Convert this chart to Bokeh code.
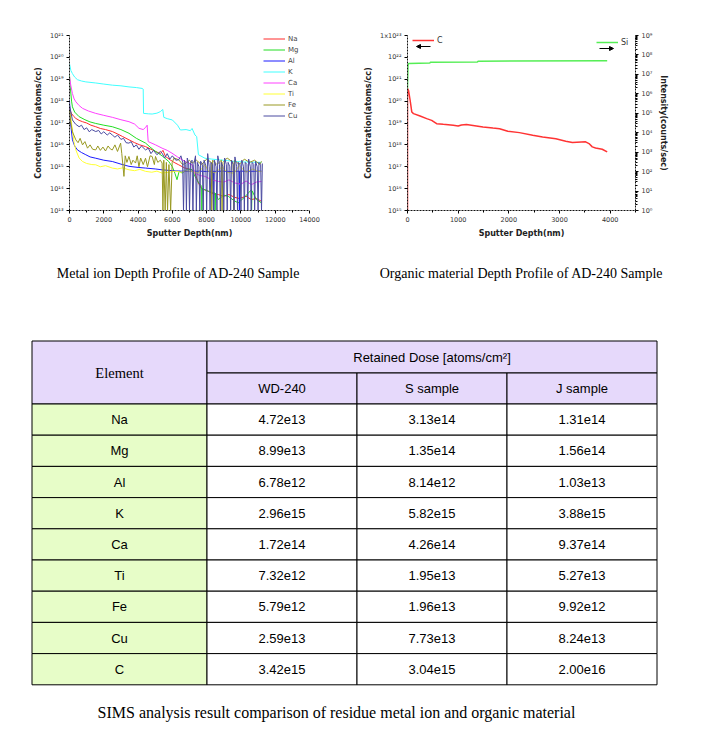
from bokeh.plotting import figure
from bokeh.models import (Range1d, LogScale, LogAxis, FixedTicker, CustomJSTickFormatter,
                          Legend, LegendItem, Arrow, NormalHead)
from bokeh.layouts import column, row
from bokeh.embed import file_html
from bokeh.resources import INLINE
from bokeh.core.properties import value

# ---------------- data: metal ion depth profile (depth nm, log10 atoms/cc) ----------------
na_pts = [(0,17.67),(100,17.45),(250,17.3),(370,17.21),(560,17.12),(760,17.06),(1000,17.0),(1250,16.9),
          (1530,16.83),(1800,16.75),(2100,16.7),(2500,16.61),(2800,16.5),(3100,16.38),(3470,16.23),
          (3800,16.1),(4100,16.0),(4440,15.92),(4700,15.82),(5020,15.70),(5300,15.6),(5450,15.75),
          (5600,15.47),(5900,15.3),(6100,15.2),(6370,15.09),(6700,14.95),(7150,14.86),(7320,14.71),
          (7520,14.26),(7700,14.0),(8100,13.88),(8400,13.75),(8680,13.73),(9000,13.65),(9300,13.73),
          (9640,13.6),(9900,13.55),(10300,13.65),(10610,13.50),(10900,13.55),(11200,13.42)]
mg_pts = [(0,19.18),(50,18.6),(120,18.0),(170,17.74),(300,17.5),(560,17.29),(900,17.15),(1200,17.05),
          (1530,16.98),(2000,16.9),(2500,16.83),(3000,16.7),(3470,16.53),(3900,16.3),(4440,16.08),
          (4700,15.9),(5020,15.70),(5400,15.5),(5790,15.24),(6000,15.0),(6150,14.7),(6270,14.41),
          (6400,14.8),(6570,14.71),(6900,14.9),(7150,14.86),(7320,14.56),(7500,14.3),(7708,14.11),
          (7720,13.0),(7750,14.0),(8100,13.88),(8483,13.80),(8490,13.0),(8520,13.8),(8680,13.5),
          (9000,13.7),(9260,13.65),(9600,13.45),(9840,13.35),(10200,13.6),(10612,13.95),(10620,13.0),
          (10650,13.9),(10903,13.5),(11200,13.35)]
al_pts = [(0,18.05),(60,17.0),(170,16.23),(300,15.95),(465,15.77),(700,15.65),(950,15.55),(1200,15.45),
          (1530,15.39),(2000,15.3),(2500,15.24),(3000,15.12),(3470,15.02),(4000,14.97),(4440,14.94),
          (5000,14.9),(5400,14.86),(6000,14.82),(6500,14.8),(7150,14.79),(7600,14.8),(8000,14.78),
          (8400,14.8),(8410,13.0),(8430,14.79),(9000,14.8),(9500,14.78),(9900,14.8),(9910,13.0),
          (9930,14.8),(10500,14.79),(11200,14.8)]
k_pts = [(0,19.71),(80,19.4),(170,19.26),(300,19.1),(465,18.98),(700,18.92),(950,18.88),(1530,18.83),
         (2000,18.78),(2500,18.73),(3000,18.7),(3470,18.65),(3900,18.62),(4240,18.58),(4300,18.55),
         (4320,17.44),(4600,17.42),(4820,17.41),(5100,17.45),(5300,17.52),(5440,17.62),(5500,17.26),
         (5700,17.2),(6000,17.14),(6300,16.9),(6470,16.68),(6800,16.7),(7050,16.65),(7150,16.75),
         (7320,16.45),(7420,16.38),(7520,15.55),(7900,15.39),(8300,15.35),(8680,15.32),(9200,15.28),
         (9640,15.24),(10200,15.22),(11200,15.20)]
ca_pts = [(0,19.11),(80,18.7),(170,18.35),(270,18.1),(370,17.97),(560,17.8),(760,17.67),(1100,17.55),
          (1530,17.44),(2000,17.35),(2500,17.26),(3000,17.15),(3470,17.06),(3800,16.95),(4050,16.76),
          (4300,16.7),(4440,16.80),(4530,16.90),(4560,16.5),(4590,16.15),(5020,16.0),(5400,15.85),
          (5700,15.75),(5980,15.62),(6300,15.45),(6570,15.32),(6850,15.2),(7150,15.09),(7320,14.71),
          (7600,14.6),(7900,14.56),(8300,14.4),(8680,14.33),(9000,14.3),(9300,14.4),(9640,14.26),
          (10000,14.2),(10300,14.35),(10610,14.18),(10900,14.3),(11200,14.33)]
ti_pts = [(0,17.59),(80,17.2),(170,16.68),(270,16.1),(370,15.77),(560,15.4),(760,15.24),(1000,15.15),
          (1300,15.1),(1530,15.09),(1800,15.0),(2100,15.05),(2500,14.94),(2800,14.9),(3100,14.95),
          (3470,14.86),(3800,14.82),(4100,14.88),(4440,14.79),(4800,14.75),(5100,14.8),(5400,14.71),
          (5800,14.75),(6200,14.8),(6500,14.75),(6800,14.82),(7150,14.79),(7500,14.7),(7900,15.1),
          (8100,14.8),(8500,14.72),(8900,15.0),(9200,14.75),(9600,14.7),(9900,15.05),(10300,14.75),
          (10700,14.9),(11000,14.78),(11200,14.79)]
fe_pts = [(0,17.59),(80,17.0),(170,16.6),(370,16.23),(500,16.1),(620,16.3),(760,16.0),(900,16.15),
          (1050,15.85),(1200,16.0),(1350,15.8),(1530,15.77),(1650,15.95),(1800,15.75),(1950,15.9),
          (2100,15.72),(2250,15.95),(2400,15.8),(2500,15.77),(2650,16.0),(2800,15.7),(2982,16.08),
          (3050,15.6),(3176,14.56),(3250,15.5),(3350,15.2),(3467,15.47),(3600,15.1),(3700,15.3),
          (3854,15.17),(3950,15.5),(4050,15.0),(4150,15.4),(4300,15.1),(4435,15.39),(4550,15.0),
          (4700,15.5),(4822,15.47),(4950,15.1),(5016,15.47),(5150,15.2),(5300,15.3),(5403,15.17),
          (5450,13.0),(5500,15.3),(5580,13.0),(5650,15.2),(5720,13.0),(5800,15.1),(5900,13.0),
          (5990,15.2),(6100,15.4),(6371,15.32),(6600,15.1),(6800,15.17),(7000,15.3),(7150,15.17),
          (7400,15.3),(7700,15.1),(8000,15.35),(8270,15.2),(8300,13.0),(8350,15.3),(8600,15.1),
          (8860,15.3),(8900,13.0),(8950,15.2),(9200,15.4),(9540,15.2),(9580,13.0),(9620,15.3),
          (9900,15.1),(10200,15.35),(10500,15.2),(10800,15.3),(11100,15.1),(11200,15.25)]
cu_pts = [(0,17.82),(80,17.5),(170,17.14),(350,16.95),(560,16.83),(700,16.9),(850,16.7),(1000,16.78),
          (1150,16.6),(1300,16.7),(1530,16.61),(1700,16.66),(1850,16.5),(2000,16.6),(2200,16.45),
          (2350,16.55),(2500,16.45),(2650,16.35),(2800,16.45),(3000,16.25),(3150,16.3),(3300,16.1),
          (3467,16.08),(3600,16.15),(3750,15.9),(3900,16.0),(4050,15.8),(4200,15.95),(4435,15.77),
          (4600,15.85),(4750,15.6),(4900,15.75),(5100,15.55),(5300,15.7),(5403,15.62),(5550,15.4),
          (5700,15.6),(5850,15.35),(6000,15.5),(6200,15.3),(6371,15.32),(6500,15.5),(6600,15.2),
          (6650,13.0),(6700,15.3),(6780,15.1),(6820,13.0),(6870,15.4),(6950,15.15),(7000,13.0),
          (7060,15.2),(7150,15.3),(7200,13.0),(7250,15.1),(7350,15.5),(7400,13.0),(7460,15.2),
          (7550,15.0),(7600,13.0),(7650,15.25),(7750,15.1),(7800,13.0),(7850,15.3),(7950,15.05),
          (8000,13.0),(8060,15.6),(8150,15.0),(8200,13.0),(8250,15.2),(8350,15.1),(8400,13.0),
          (8450,15.3),(8550,15.0),(8600,13.0),(8650,15.5),(8750,15.1),(8800,13.0),(8850,15.2),
          (8950,15.0),(9000,13.0),(9050,15.4),(9150,15.1),(9200,13.0),(9250,15.2),(9350,15.0),
          (9400,13.0),(9450,15.3),(9550,15.1),(9600,13.0),(9650,15.45),(9750,15.0),(9800,13.0),
          (9850,15.2),(9950,15.1),(10000,13.0),(10050,15.3),(10150,15.0),(10200,13.0),(10250,15.2),
          (10350,15.1),(10400,13.0),(10450,15.35),(10550,15.0),(10600,13.0),(10650,15.2),(10750,15.1),
          (10800,13.0),(10850,15.25),(10950,15.0),(11000,13.0),(11050,15.2),(11150,15.1),(11200,13.0),
          (11250,15.15)]

metal_names = ["Na", "Mg", "Al", "K", "Ca", "Ti", "Fe", "Cu"]
metal_series = [na_pts, mg_pts, al_pts, k_pts, ca_pts, ti_pts, fe_pts, cu_pts]
metal_colors = ["#ff2a2a", "#22dd22", "#1a1aff", "#40ffff", "#ff40ff", "#ffff33", "#999922", "#4a4aa0"]

# ---------------- data: organic depth profile ----------------
c_pts = [(0,15.0),(0,20.57),(20,20.49),(52,20.04),(85,19.5),(118,19.43),(248,19.32),(379,19.2),
         (477,19.12),(575,18.97),(706,18.94),(902,18.9),(1000,18.86),(1065,18.91),(1163,18.93),
         (1261,18.9),(1490,18.82),(1686,18.77),(1817,18.74),(1980,18.62),(2209,18.56),(2471,18.44),
         (2667,18.36),(2928,18.28),(3124,18.17),(3255,18.11),(3516,18.14),(3582,18.06),(3647,17.91),
         (3712,17.86),(3843,17.80),(3941,17.68)]
si_pts = [(0,6.28),(10,7.45),(20,7.56),(440,7.58),(450,7.62),(1380,7.64),(1400,7.68),(3941,7.70)]

# ---------------- data: table ----------------
elements = ["Na", "Mg", "Al", "K", "Ca", "Ti", "Fe", "Cu", "C"]
wd240 = ["4.72e13", "8.99e13", "6.78e12", "2.96e15", "1.72e14", "7.32e12", "5.79e12", "2.59e13", "3.42e15"]
s_sample = ["3.13e14", "1.35e14", "8.14e12", "5.82e15", "4.26e14", "1.95e13", "1.96e13", "7.73e13", "3.04e15"]
j_sample = ["1.31e14", "1.56e14", "1.03e13", "3.88e15", "9.37e14", "5.27e13", "9.92e12", "8.24e13", "2.00e16"]
col_headers = ["WD-240", "S sample", "J sample"]

captions = ["Metal ion Depth Profile of AD-240 Sample",
            "Organic material Depth Profile of AD-240 Sample",
            "SIMS analysis result comparison of residue metal ion and organic material"]

def pw(e):
    return float("1e%d" % e)

def sup_formatter(prefix_top=None):
    return CustomJSTickFormatter(args=dict(top=prefix_top if prefix_top is not None else -999), code="""
const e = Math.round(Math.log10(tick));
const s = {"0":"⁰","1":"¹","2":"²","3":"³","4":"⁴","5":"⁵","6":"⁶","7":"⁷","8":"⁸","9":"⁹","-":"⁻"};
const t = "10" + String(e).split("").map(c => s[c]).join("");
return (e == top) ? "1x" + t : t;
""")

def log_ticker(lo, hi, minor=True):
    major = [pw(e) for e in range(lo, hi + 1)]
    mn = [m * pw(e) for e in range(lo, hi) for m in range(2, 10)] if minor else []
    return FixedTicker(ticks=major, minor_ticks=mn)

def style_axis(ax, minor=True):
    ax.axis_line_color = "#111111"
    ax.axis_line_dash = "2 1"
    ax.major_tick_out = 3
    ax.major_tick_in = 0
    ax.minor_tick_out = 2 if minor else 0
    ax.minor_tick_in = 0
    ax.major_label_text_font = "DejaVu Sans"
    ax.major_label_text_font_size = "6.5px"
    ax.major_label_text_color = "#333333"
    ax.major_label_standoff = 3
    ax.axis_label_text_font = "DejaVu Sans"
    ax.axis_label_text_font_size = "8px"
    ax.axis_label_text_font_style = "bold"
    ax.axis_label_text_color = "#222222"
    ax.axis_label_standoff = 4

# ---------------- left chart ----------------
p1 = figure(width=353, height=250, x_range=Range1d(0, 14000), y_range=Range1d(pw(13), pw(21)),
            y_axis_type="log", output_backend="svg", toolbar_location=None,
            min_border_left=69, min_border_right=44, min_border_top=35, min_border_bottom=39)
p1.grid.visible = False
p1.outline_line_color = None
items = []
for name, pts, col in zip(metal_names, metal_series, metal_colors):
    xs = [d for d, _ in pts]
    ys = [10.0 ** v for _, v in pts]
    r = p1.line(xs, ys, line_color=col, line_width=1)
    items.append(LegendItem(label=name, renderers=[r]))
p1.xaxis.ticker = FixedTicker(ticks=list(range(0, 14001, 2000)), minor_ticks=list(range(1000, 14000, 2000)))
p1.yaxis.ticker = log_ticker(13, 21, minor=False)
p1.yaxis.formatter = sup_formatter()
p1.xaxis.axis_label = "Sputter Depth(nm)"
p1.yaxis.axis_label = "Concentration(atoms/cc)"
style_axis(p1.xaxis[0])
style_axis(p1.yaxis[0], minor=False)
leg = Legend(items=items, location=(194, 90), label_text_font_size="7px", label_text_color="#444444",
             label_text_font="DejaVu Sans", glyph_width=22, glyph_height=9, label_height=9, spacing=2,
             padding=0, margin=0, border_line_color=None, background_fill_alpha=0, label_standoff=3)
p1.add_layout(leg)

# ---------------- right chart ----------------
p2 = figure(width=356, height=250, x_range=Range1d(0, 4500), y_range=Range1d(pw(15), pw(23)),
            y_axis_type="log", output_backend="svg", toolbar_location=None,
            min_border_left=54, min_border_right=74, min_border_top=35, min_border_bottom=40)
p2.grid.visible = False
p2.outline_line_color = None
p2.extra_y_ranges = {"si": Range1d(pw(0), pw(9))}
p2.extra_y_scales = {"si": LogScale()}
rc = p2.line([d for d, _ in c_pts], [10.0 ** v for _, v in c_pts], line_color="#ff3333", line_width=1.5)
rs = p2.line([d for d, _ in si_pts], [10.0 ** v for _, v in si_pts], line_color="#55ee55",
             line_width=1.5, y_range_name="si")
raxis = LogAxis(y_range_name="si", axis_label="Intensity(counts/sec)")
p2.add_layout(raxis, "right")
p2.xaxis.ticker = FixedTicker(ticks=list(range(0, 4501, 1000)), minor_ticks=list(range(500, 4600, 1000)))
p2.yaxis[0].ticker = log_ticker(15, 23, minor=False)
raxis.ticker = log_ticker(0, 9)
p2.yaxis[0].formatter = sup_formatter(23)
raxis.formatter = sup_formatter()
p2.xaxis.axis_label = "Sputter Depth(nm)"
p2.yaxis[0].axis_label = "Concentration(atoms/cc)"
style_axis(p2.xaxis[0])
style_axis(p2.yaxis[0], minor=False)
style_axis(raxis)
for it, loc in ((LegendItem(label="C", renderers=[rc]), (5, 165)), (LegendItem(label="Si", renderers=[rs]), (189, 163))):
    lg = Legend(items=[it], location=loc, label_text_font_size="8px", label_text_color="#333333",
                label_text_font="DejaVu Sans", glyph_width=22, glyph_height=10, label_height=10,
                padding=0, margin=0, border_line_color=None, background_fill_alpha=0, label_standoff=3)
    p2.add_layout(lg)
p2.add_layout(Arrow(end=NormalHead(size=4, line_color="black", fill_color="black"),
                    x_start=23, y_start=164, x_end=9, y_end=164,
                    start_units="screen", end_units="screen", line_width=1))
p2.add_layout(Arrow(end=NormalHead(size=4, line_color="black", fill_color="black"),
                    x_start=192, y_start=162, x_end=206, y_end=162,
                    start_units="screen", end_units="screen", line_width=1))

# ---------------- bottom: captions + table ----------------
p3 = figure(width=709, height=486, x_range=Range1d(0, 709), y_range=Range1d(736, 250),
            output_backend="svg", toolbar_location=None, min_border=0,
            x_axis_location=None, y_axis_location=None)
p3.grid.visible = False
p3.outline_line_color = None

col_edges = [31.5, 206.5, 356.5, 506.5, 656.5]
hdr_top, hdr_mid, body_top, row_h = 340.5, 372.5, 403.5, 31.2
LAV, GRN = "#e6d9fb", "#e7fdc8"

L, R, T, B, F = [], [], [], [], []
L += [col_edges[0]]; R += [col_edges[1]]; T += [hdr_top]; B += [body_top]; F += [LAV]
L += [col_edges[1]]; R += [col_edges[4]]; T += [hdr_top]; B += [hdr_mid]; F += [LAV]
for j in range(3):
    L.append(col_edges[j + 1]); R.append(col_edges[j + 2]); T.append(hdr_mid); B.append(body_top); F.append(LAV)
for i in range(len(elements)):
    for j in range(4):
        L.append(col_edges[j]); R.append(col_edges[j + 1])
        T.append(body_top + i * row_h); B.append(body_top + (i + 1) * row_h)
        F.append(GRN if j == 0 else "white")
p3.quad(left=L, right=R, top=T, bottom=B, fill_color=F, line_color="black", line_width=1)

tx, ty, tt = [], [], []
for j, h in enumerate(col_headers):
    tx.append((col_edges[j + 1] + col_edges[j + 2]) / 2); ty.append((hdr_mid + body_top) / 2); tt.append(h)
tx.append((col_edges[1] + col_edges[4]) / 2); ty.append((hdr_top + hdr_mid) / 2); tt.append("Retained Dose [atoms/cm²]")
for i, vals in enumerate(zip(elements, wd240, s_sample, j_sample)):
    for j, v in enumerate(vals):
        tx.append((col_edges[j] + col_edges[j + 1]) / 2)
        ty.append(body_top + (i + 0.5) * row_h)
        tt.append(v)
p3.text(tx, ty, text=tt, text_align="center", text_baseline="middle",
        text_font=value("Liberation Sans"), text_font_size="13px", text_color="black")
p3.text([(col_edges[0] + col_edges[1]) / 2], [(hdr_top + body_top) / 2], text=["Element"],
        text_align="center", text_baseline="middle", text_font=value("Liberation Serif"),
        text_font_size="14.5px", text_color="black")
p3.text([178, 521], [273, 273], text=captions[:2], text_align="center", text_baseline="middle",
        text_font=value("Liberation Serif"), text_font_size="14px", text_color="black")
p3.text([336], [712], text=captions[2:], text_align="center", text_baseline="middle",
        text_font=value("Liberation Serif"), text_font_size="16px", text_color="black")

layout = column(row(p1, p2), p3)
open("out.html", "w").write(file_html(layout, INLINE, "SIMS"))
